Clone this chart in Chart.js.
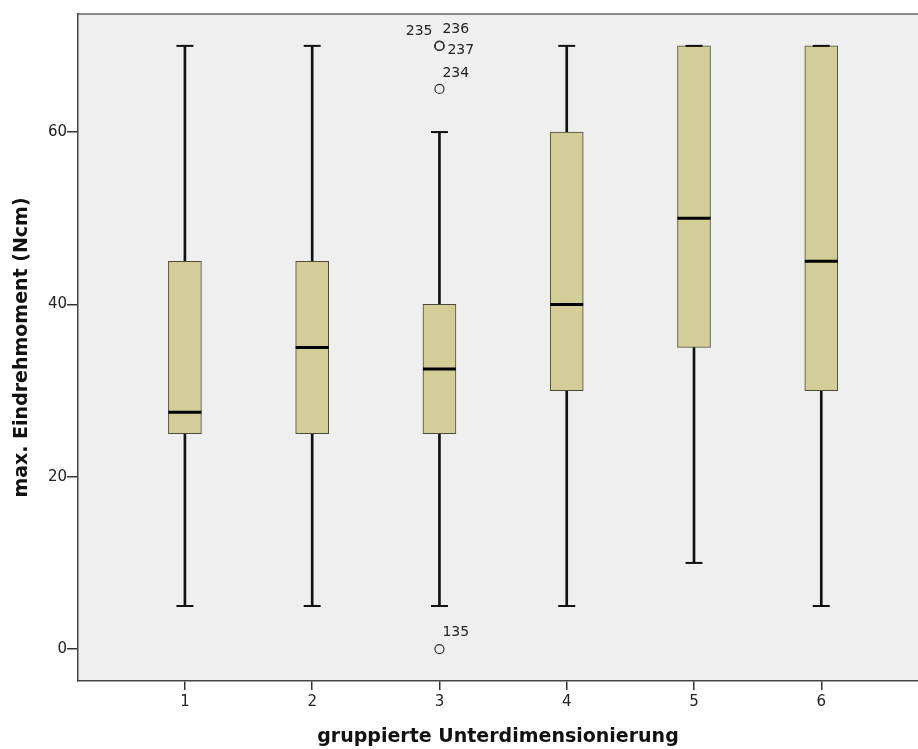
<!DOCTYPE html>
<html>
<head>
<meta charset="utf-8">
<script src="https://cdn.jsdelivr.net/npm/chart.js@4"></script>
<style>
  html, body { margin: 0; padding: 0; background: #fff; overflow: hidden; }
  #wrap { width: 918px; height: 749px; }
  canvas { display: block; }
</style>
</head>
<body>
<div id="wrap"><canvas id="grafico"></canvas></div>
<script>
// Gruppen und Kennwerte der Boxplots
const gruppen = [1, 2, 3, 4, 5, 6];
const whiskerUnten = [5, 5, 5, 5, 10, 5];
const q1 = [25, 25, 25, 30, 35, 30];
const median = [27.5, 35, 32.5, 40, 50, 45];
const q3 = [45, 45, 40, 60, 70, 70];
const whiskerOben = [70, 70, 60, 70, 70, 70];

// Ausreißer (Gruppe, Wert, Fallnummer)
const ausreisserGruppe = [3, 3, 3, 3, 3];
const ausreisserWert = [0, 65, 70, 70, 70];
const ausreisserLabel = ['135', '234', '235', '236', '237'];

const yTicks = [0, 20, 40, 60];

const boxFarbe = 'rgb(211, 206, 152)';
const schrift = "'DejaVu Sans', sans-serif";

// Whiskerlinien als schmale schwebende Balken
const whiskerDaten = [];
gruppen.forEach((g, i) => {
  whiskerDaten.push({ x: g, y: [whiskerUnten[i], q1[i]] });
  whiskerDaten.push({ x: g, y: [q3[i], whiskerOben[i]] });
});
const kappenDaten = [];
gruppen.forEach((g, i) => {
  kappenDaten.push({ x: g, y: whiskerUnten[i] });
  kappenDaten.push({ x: g, y: whiskerOben[i] });
});

// Hintergrund der Plotfläche + obere Linie
const hintergrund = {
  id: 'hintergrund',
  beforeDraw(chart) {
    const { ctx, chartArea: a } = chart;
    ctx.save();
    ctx.fillStyle = '#efefef';
    ctx.fillRect(a.left, a.top, a.right - a.left, a.bottom - a.top);
    ctx.strokeStyle = '#666';
    ctx.lineWidth = 1.5;
    ctx.beginPath();
    ctx.moveTo(a.left, a.top);
    ctx.lineTo(a.right, a.top);
    ctx.stroke();
    ctx.restore();
  }
};

// Fallnummern neben den Ausreißern
const versatz = { '135': [3, -17, 'left'], '234': [3, -16, 'left'], '235': [-7, -15, 'right'], '236': [3, -17, 'left'], '237': [8, 4, 'left'] };
const beschriftung = {
  id: 'beschriftung',
  afterDatasetsDraw(chart) {
    const { ctx, scales } = chart;
    ctx.save();
    ctx.font = '14px ' + schrift;
    ctx.fillStyle = '#222';
    ctx.textBaseline = 'middle';
    ausreisserLabel.forEach((t, i) => {
      const px = scales.x.getPixelForValue(ausreisserGruppe[i]);
      const py = scales.y.getPixelForValue(ausreisserWert[i]);
      const v = versatz[t];
      ctx.textAlign = v[2];
      ctx.fillText(t, px + v[0], py + v[1]);
    });
    ctx.restore();
  }
};

const ctx = document.getElementById('grafico').getContext('2d');
new Chart(ctx, {
  type: 'bar',
  data: {
    datasets: [
      {
        type: 'bar', data: whiskerDaten, grouped: false, barThickness: 2,
        backgroundColor: '#111', borderWidth: 0, order: 5
      },
      {
        type: 'bar', data: gruppen.map((g, i) => ({ x: g, y: [q1[i], q3[i]] })),
        grouped: false, barThickness: 33, backgroundColor: boxFarbe,
        borderColor: '#4a4a3a', borderWidth: 1, borderSkipped: false, order: 4
      },
      {
        type: 'scatter', data: gruppen.map((g, i) => ({ x: g, y: median[i] })),
        pointStyle: 'line', radius: 16.5, borderWidth: 3, borderColor: '#000', order: 3
      },
      {
        type: 'scatter', data: kappenDaten,
        pointStyle: 'line', radius: 8.5, borderWidth: 2, borderColor: '#111', order: 2
      },
      {
        type: 'scatter', data: ausreisserWert.map((v, i) => ({ x: ausreisserGruppe[i], y: v })),
        pointStyle: 'circle', radius: 4.5, borderWidth: 1.2, borderColor: '#333',
        backgroundColor: 'rgba(0,0,0,0)', order: 1
      }
    ]
  },
  options: {
    responsive: true,
    maintainAspectRatio: false,
    animation: false,
    layout: { autoPadding: false, padding: { top: 14, right: 0, left: 0, bottom: 0 } },
    plugins: { legend: { display: false }, tooltip: { enabled: false } },
    scales: {
      x: {
        type: 'linear', position: 'bottom', min: 0.16, max: 6.76, offset: false,
        afterBuildTicks: s => { s.ticks = gruppen.map(v => ({ value: v })); },
        afterFit: s => { s.height = 68; },
        grid: { display: true, offset: false, drawOnChartArea: false, drawTicks: true, tickLength: 9, color: '#333', lineWidth: 1.5 },
        border: { display: true, color: '#444', width: 1.5 },
        ticks: { color: '#222', font: { family: schrift, size: 15 }, padding: 3 },
        title: {
          display: true, text: 'gruppierte Unterdimensionierung', color: '#111',
          font: { family: schrift, size: 19, weight: 'bold' }, padding: { top: 4, bottom: 1 }
        }
      },
      y: {
        type: 'linear', min: -3.7, max: 73.7,
        afterBuildTicks: s => { s.ticks = yTicks.map(v => ({ value: v })); },
        afterFit: s => { s.width = 78; },
        grid: { display: true, drawOnChartArea: false, drawTicks: true, tickLength: 11, color: '#333', lineWidth: 1.5 },
        border: { display: true, color: '#444', width: 1.5 },
        ticks: { color: '#222', font: { family: schrift, size: 15 }, padding: 0 },
        title: {
          display: true, text: 'max. Eindrehmoment (Ncm)', color: '#111',
          font: { family: schrift, size: 19, weight: 'bold' }, padding: { top: 11, bottom: 4 }
        }
      }
    }
  },
  plugins: [hintergrund, beschriftung]
});
</script>
</body>
</html>
